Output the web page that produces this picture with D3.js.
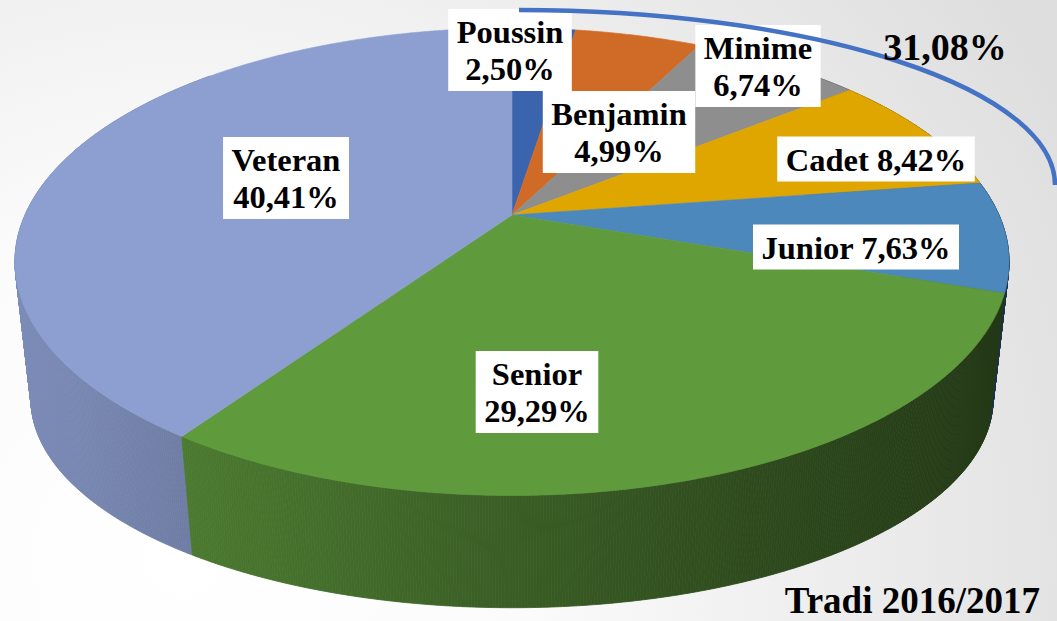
<!DOCTYPE html>
<html>
<head>
<meta charset="utf-8">
<script src="https://cdn.jsdelivr.net/npm/d3@7"></script>
<style>
  html, body { margin: 0; padding: 0; overflow: hidden; }
  text { font-family: 'Liberation Serif', 'Times New Roman', serif; font-weight: bold; }
</style>
</head>
<body>
<div id="chart"></div>
<script>
const categories = ['Poussin', 'Benjamin', 'Minime', 'Cadet', 'Junior', 'Senior', 'Veteran'];
const values = [2.50, 4.99, 6.74, 8.42, 7.63, 29.29, 40.41];
const colors = ['#3a64ad', '#d06b27', '#8e8e8e', '#e0a600', '#4c88bc', '#5f9a3c', '#8c9fd0'];
const groupNote = '31,08%';
const title = 'Tradi 2016/2017';

// label boxes: centre and one or two lines
const labelLayout = [
  { x: 510, y: 50, inline: false },
  { x: 619, y: 132, inline: false },
  { x: 758, y: 66, inline: false },
  { x: 876, y: 159, inline: true },
  { x: 856, y: 247, inline: true },
  { x: 537, y: 392, inline: false },
  { x: 286, y: 178, inline: false }
];

const width = 1057;
const height = 621;

const svg = d3.select('#chart')
  .append('svg')
  .attr('width', width)
  .attr('height', height)

const defs = svg.append('defs');

const bg = defs.append('radialGradient')
  .attr('id', 'bg')
  .attr('gradientUnits', 'userSpaceOnUse')
  .attr('cx', 180).attr('cy', 560).attr('r', 1000)
bg.append('stop').attr('offset', 0).attr('stop-color', '#ffffff')
bg.append('stop').attr('offset', 0.35).attr('stop-color', '#fbfbfb')
bg.append('stop').attr('offset', 1).attr('stop-color', '#dedede')

svg.append('rect')
  .attr('width', width)
  .attr('height', height)
  .attr('fill', 'url(#bg)')

// perspective pie: top disk and (flatter, narrower) bottom disk
const cx = 512, cy = 215, A = 487, B = 224.4, p = 0.2;
const cyb = 357.6, A2 = 471.3, B2 = 200.1, p2 = 0.2;
const topPt = (a) => {
  const u = Math.sin(a), v = -Math.cos(a), s = 1 / (1 - p * v);
  return [cx + A * u * s, cy + B * v * s];
}
const botPt = (a) => {
  const u = Math.sin(a), v = -Math.cos(a), s = 1 / (1 - p2 * v);
  return [cx + A2 * u * s, cyb + B2 * v * s];
}
const arcPts = (f, a0, a1) => {
  const n = Math.max(2, Math.ceil(Math.abs(a1 - a0) / 0.005));
  return d3.range(n + 1).map((i) => f(a0 + (a1 - a0) * i / n));
}

const pie = d3.pie().sort(null).value((d) => d)(values);

const shade = d3.scaleLinear()
  .domain([15, 300, 500, 1010])
  .range([0.35, 0.9, 1.39, 2.9])

pie.forEach((d, i) => {
  const g = defs.append('linearGradient')
    .attr('id', 'side' + i)
    .attr('gradientUnits', 'userSpaceOnUse')
    .attr('x1', 15).attr('x2', 1010).attr('y1', 0).attr('y2', 0)
  shade.domain().forEach((x) => {
    g.append('stop')
      .attr('offset', (x - 15) / 995)
      .attr('stop-color', d3.color(colors[i]).darker(shade(x)).formatHex())
  })
})

const lo = Math.PI / 4, hi = Math.PI * 7 / 4;
const sides = pie
  .map((d, i) => ({ i, a0: Math.max(d.startAngle, lo), a1: Math.min(d.endAngle, hi) }))
  .filter((s) => s.a1 > s.a0)
  .sort((a, b) => Math.abs((b.a0 + b.a1) / 2 - Math.PI) - Math.abs((a.a0 + a.a1) / 2 - Math.PI));

const line = d3.line();

// each side is a strip of small quads so the outline follows the silhouette
const sideG = svg.append('g')
  .selectAll('g')
  .data(sides)
  .join('g')
  .attr('fill', (s) => `url(#side${s.i})`)
  .attr('stroke', (s) => `url(#side${s.i})`)
  .attr('stroke-width', 0.8)

sideG.selectAll('path')
  .data((s) => {
    const t = arcPts(topPt, s.a0, s.a1);
    const b = arcPts(botPt, s.a0, s.a1);
    return d3.range(t.length - 1).map((j) => [t[j], t[j + 1], b[j + 1], b[j]]);
  })
  .join('path')
  .attr('d', (q) => line(q) + 'Z')

svg.append('g')
  .selectAll('path')
  .data(pie)
  .join('path')
  .attr('d', (d) => line([[cx, cy]].concat(arcPts(topPt, d.startAngle, d.endAngle))) + 'Z')
  .attr('fill', (d, i) => colors[i])
  .attr('stroke', (d, i) => colors[i])
  .attr('stroke-width', 0.6)

// labels
const fmt = d3.formatLocale({ decimal: ',', thousands: ' ', grouping: [3], currency: ['', ''] }).format('.2f');
const fontSize = 32.5, lineH = 37;

const labels = svg.append('g')
  .selectAll('g')
  .data(pie)
  .join('g')

labels.each(function (d, i) {
  const lay = labelLayout[i];
  const lines = lay.inline
    ? [`${categories[i]} ${fmt(d.data)}%`]
    : [categories[i], `${fmt(d.data)}%`];
  const boxH = lines.length === 1 ? 45 : 82;
  const top = lay.y - boxH / 2;
  const rect = d3.select(this).append('rect').attr('fill', '#ffffff');
  const texts = d3.select(this)
    .selectAll('text')
    .data(lines)
    .join('text')
    .attr('x', lay.x)
    .attr('y', (t, j) => top + 34 + j * lineH)
    .attr('text-anchor', 'middle')
    .attr('font-size', fontSize)
    .attr('fill', '#000')
    .text((t) => t)
  const w = d3.max(texts.nodes(), (n) => n.getComputedTextLength()) + 17;
  rect.attr('x', lay.x - w / 2).attr('y', top).attr('width', w).attr('height', boxH)
})

// bracket over the young categories
svg.append('path')
  .attr('d', 'M519,10 A536,175 0 0 1 1055,185')
  .attr('fill', 'none')
  .attr('stroke', '#4472c4')
  .attr('stroke-width', 4.5)

svg.append('text')
  .attr('x', 945)
  .attr('y', 60)
  .attr('text-anchor', 'middle')
  .attr('font-size', 38)
  .text(groupNote)

svg.append('text')
  .attr('x', 1040)
  .attr('y', 613)
  .attr('text-anchor', 'end')
  .attr('font-size', 37)
  .text(title)
</script>
</body>
</html>
